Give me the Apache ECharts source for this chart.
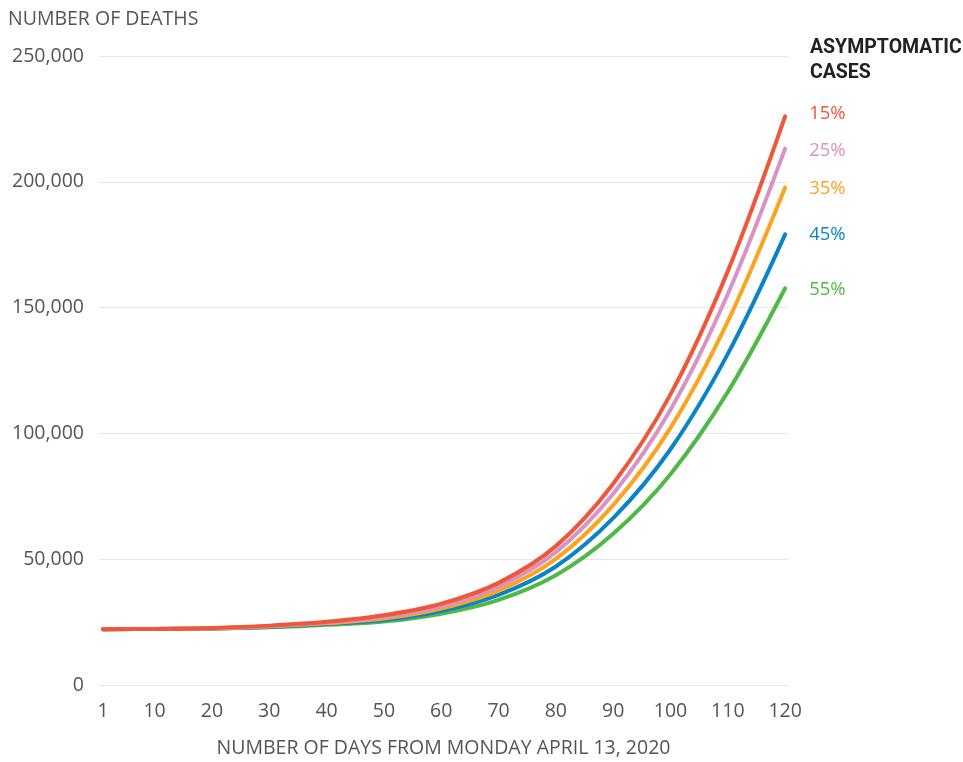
<!DOCTYPE html>
<html>
<head>
<meta charset="utf-8">
<title>Projected deaths by share of asymptomatic cases</title>
<script src="https://cdn.jsdelivr.net/npm/echarts@6/dist/echarts.min.js"></script>
<style>
    html, body { margin: 0; padding: 0; background: #fff; }
    #chart { width: 963px; height: 762px; }
</style>
</head>
<body>
<div id="chart"></div>
<script>
// days since Monday April 13, 2020 (sampled)
var days = [1, 10, 20, 30, 40, 50, 60, 70, 80, 90, 100, 110, 120];
var xTicks = [1, 10, 20, 30, 40, 50, 60, 70, 80, 90, 100, 110, 120];

// cumulative deaths, one array per asymptomatic share
var deaths15 = [22200, 22300, 22700, 23600, 25100, 27700, 32300, 40600, 55200, 80000, 115500, 164500, 226000];
var deaths25 = [22200, 22300, 22600, 23400, 24800, 27000, 31300, 39100, 52800, 76000, 109400, 155400, 213200];
var deaths35 = [22200, 22300, 22600, 23300, 24500, 26400, 30400, 37500, 50100, 71500, 102200, 144500, 197700];
var deaths45 = [22200, 22300, 22500, 23100, 24200, 25800, 29400, 35800, 47100, 66300, 93700, 131600, 179100];
var deaths55 = [22200, 22300, 22500, 23000, 23900, 25200, 28300, 33800, 43600, 60100, 83800, 116500, 157700];

var shares = ['15%', '25%', '35%', '45%', '55%'];
var colors = ['#ef563a', '#d892c6', '#fba41f', '#0a84c8', '#4fb847'];
var labelShift = [-3, 2, 1, 0, 2];

var font = 'Open Sans';

function pairs(vals) {
    return days.map(function (d, i) { return [d, vals[i]]; });
}

var chart = echarts.init(document.getElementById('chart'));

var allSeries = [deaths15, deaths25, deaths35, deaths45, deaths55].map(function (vals, i) {
    return {
        name: shares[i],
        type: 'line',
        data: pairs(vals),
        smooth: 0.35,
        showSymbol: false,
        symbol: 'none',
        z: 10 - i,
        lineStyle: { width: 4, color: colors[i], cap: 'round' },
        itemStyle: { color: colors[i] },
        endLabel: {
            show: true,
            formatter: '{a}',
            distance: 24,
            offset: [0, labelShift[i]],
            color: colors[i],
            fontFamily: font,
            fontSize: 18.5
        },
        emphasis: { disabled: true }
    };
});

var option = {
    animation: false,
    backgroundColor: '#fff',
    title: [{
        text: 'NUMBER OF DEATHS',
        left: 8,
        top: 9,
        padding: 0,
        textStyle: { fontFamily: font, fontSize: 19.5, fontWeight: 'normal', color: '#555' }
    }, {
        text: 'ASYMPTOMATIC\nCASES',
        left: 810,
        top: 36,
        padding: 0,
        textStyle: { fontFamily: 'Roboto', fontSize: 19.5, fontWeight: 'bold', color: '#222', lineHeight: 25 }
    }],
    grid: { left: 99, right: 175, top: 56, bottom: 77, outerBoundsMode: 'none' },
    xAxis: {
        type: 'value',
        min: 0.3,
        max: 120.5,
        name: 'NUMBER OF DAYS FROM MONDAY APRIL 13, 2020',
        nameLocation: 'middle',
        nameGap: 53,
        nameTextStyle: { fontFamily: font, fontSize: 19.5, color: '#555' },
        axisLine: { show: false },
        axisTick: { show: false },
        splitLine: { show: false },
        axisLabel: {
            customValues: xTicks,
            margin: 16,
            fontFamily: font,
            fontSize: 19.5,
            color: '#555'
        }
    },
    yAxis: {
        type: 'value',
        min: 0,
        max: 250000,
        interval: 50000,
        axisLine: { show: false },
        axisTick: { show: false },
        splitLine: { lineStyle: { color: '#e6e6e6', width: 1 } },
        axisLabel: {
            margin: 15,
            fontFamily: font,
            fontSize: 19.5,
            color: '#555',
            formatter: function (v) { return v.toLocaleString('en-US'); }
        }
    },
    series: allSeries
};

chart.setOption(option);
window.onresize = chart.resize;
</script>
</body>
</html>
